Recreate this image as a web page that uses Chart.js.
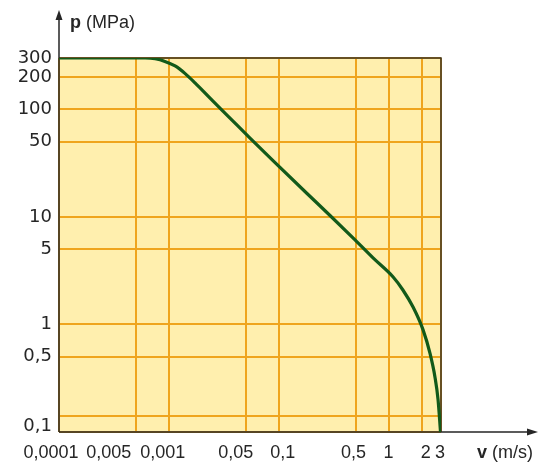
<!DOCTYPE html>
<html>
<head>
<meta charset="utf-8">
<script src="https://cdn.jsdelivr.net/npm/chart.js@4"></script>
<style>
  html, body { margin: 0; padding: 0; background: #fff; }
</style>
</head>
<body>
<canvas id="chart" width="546" height="463"></canvas>
<script>
// pressure p (MPa) against speed v (m/s), log-log

const speeds    = [0.001, 0.0036, 0.0061, 0.0075, 0.0092, 0.0114, 0.014, 0.0173, 0.0237, 0.036,
                   0.0548, 0.0887, 0.181, 0.293, 0.495, 0.722, 1.10, 1.35, 1.67, 2.06,
                   2.38, 2.65, 2.82, 2.97];
const pressures = [300, 300, 300, 295, 279, 253, 216, 176, 127, 83,
                   54.1, 33.4, 16.5, 10.3, 6.1, 4.15, 2.76, 2.09, 1.45, 0.89,
                   0.54, 0.32, 0.20, 0.1];

// grid values and the labels the drawing prints on them
const xTickValues = [0.001, 0.005, 0.01, 0.05, 0.1, 0.5, 1, 2, 3];
const xTickLabels = ['0,0001', '0,005', '0,001', '0,05', '0,1', '0,5', '1', '2', '3'];
const yTickValues = [0.1, 0.14, 0.5, 1, 5, 10, 50, 100, 200, 300];
const yTickLabels = ['0,1', '', '0,5', '1', '5', '10', '50', '100', '200', '300'];

// labels are pushed sideways in the drawing so they don't collide (px)
const xLabelNudge = [-8, -27, -6, -10, 4, -2, 0, 4, -1];
const yLabelNudge = [-6, 0, 0, 0, 0, 0, 0, 0, 0, 0];

const INK   = '#262626';
const GRID  = '#efa51e';
const PAPER = '#ffefae';
const LINE  = '#125a1a';

const paperPlugin = {
  id: 'paper',
  beforeDraw(chart) {
    const { ctx, chartArea: a } = chart;
    ctx.save();
    ctx.fillStyle = PAPER;
    ctx.fillRect(a.left, a.top, a.right - a.left, a.bottom - a.top);
    ctx.restore();

    // shift single labels, once
    [['x', xTickLabels, xLabelNudge, 0], ['y', yTickLabels, yLabelNudge, 1]].forEach(([id, labels, nudge, k]) => {
      chart.scales[id].getLabelItems().forEach(item => {
        if (item._nudged) return;
        const i = labels.indexOf(item.label);
        if (i >= 0) item.options.translation[k] += nudge[i];
        item._nudged = true;
      });
    });
  },
  beforeDatasetsDraw(chart) {
    const { ctx, chartArea: a } = chart;
    ctx.save();
    // frame
    ctx.strokeStyle = '#3b3526';
    ctx.lineWidth = 1.5;
    ctx.beginPath();
    ctx.moveTo(a.left, a.top);
    ctx.lineTo(a.right, a.top);
    ctx.lineTo(a.right, a.bottom);
    ctx.stroke();

    // axes with arrows
    ctx.strokeStyle = INK;
    ctx.fillStyle = INK;
    ctx.lineWidth = 1.5;
    ctx.beginPath();
    ctx.moveTo(a.left, a.bottom);
    ctx.lineTo(a.left, 14);
    ctx.moveTo(a.left, a.bottom);
    ctx.lineTo(533, a.bottom);
    ctx.stroke();
    ctx.beginPath();
    ctx.moveTo(a.left, 10); ctx.lineTo(a.left - 3.5, 20); ctx.lineTo(a.left + 3.5, 20);
    ctx.closePath(); ctx.fill();
    ctx.beginPath();
    ctx.moveTo(538, a.bottom); ctx.lineTo(527, a.bottom - 3.5); ctx.lineTo(527, a.bottom + 3.5);
    ctx.closePath(); ctx.fill();
    ctx.restore();
  },
  afterDraw(chart) {
    const { ctx } = chart;
    ctx.save();
    ctx.fillStyle = INK;
    ctx.textBaseline = 'alphabetic';
    const title = (x, y, sym, unit) => {
      ctx.font = 'bold 18px "Liberation Sans", Arial, sans-serif';
      ctx.fillText(sym, x, y);
      const w = ctx.measureText(sym + ' ').width;
      ctx.font = '18px "Liberation Sans", Arial, sans-serif';
      ctx.fillText(unit, x + w, y);
    };
    title(70, 28, 'p', '(MPa)');
    title(477, 458, 'v', '(m/s)');
    ctx.restore();
  }
};

new Chart(document.getElementById('chart'), {
  type: 'line',
  data: {
    datasets: [{
      data: speeds.map((v, i) => ({ x: v, y: pressures[i] })),
      borderColor: LINE,
      borderWidth: 3.2,
      pointRadius: 0,
      cubicInterpolationMode: 'monotone',
      fill: false
    }]
  },
  options: {
    responsive: false,
    animation: false,
    layout: { padding: { top: 58, right: 105, left: 0, bottom: 0 } },
    plugins: { legend: { display: false }, tooltip: { enabled: false } },
    scales: {
      x: {
        type: 'logarithmic',
        min: 0.001,
        max: 3,
        afterBuildTicks: s => { s.ticks = xTickValues.map(v => ({ value: v })); },
        afterFit: s => { s.height = 31; },
        grid: { color: GRID, lineWidth: 2, drawTicks: false },
        border: { display: false },
        ticks: {
          autoSkip: false, maxRotation: 0, minRotation: 0, padding: 10,
          color: INK,
          font: { family: '"Liberation Sans", Arial, sans-serif', size: 18 },
          callback: (v, i) => xTickLabels[i]
        }
      },
      y: {
        type: 'logarithmic',
        min: 0.1,
        max: 300,
        afterBuildTicks: s => { s.ticks = yTickValues.map(v => ({ value: v })); },
        afterFit: s => { s.width = 59; },
        grid: { color: GRID, lineWidth: 2, drawTicks: false },
        border: { display: false },
        ticks: {
          autoSkip: false, padding: 7,
          color: INK,
          font: { family: '"DejaVu Sans", sans-serif', size: 18 },
          callback: (v, i) => yTickLabels[i]
        }
      }
    }
  },
  plugins: [paperPlugin]
});
</script>
</body>
</html>
